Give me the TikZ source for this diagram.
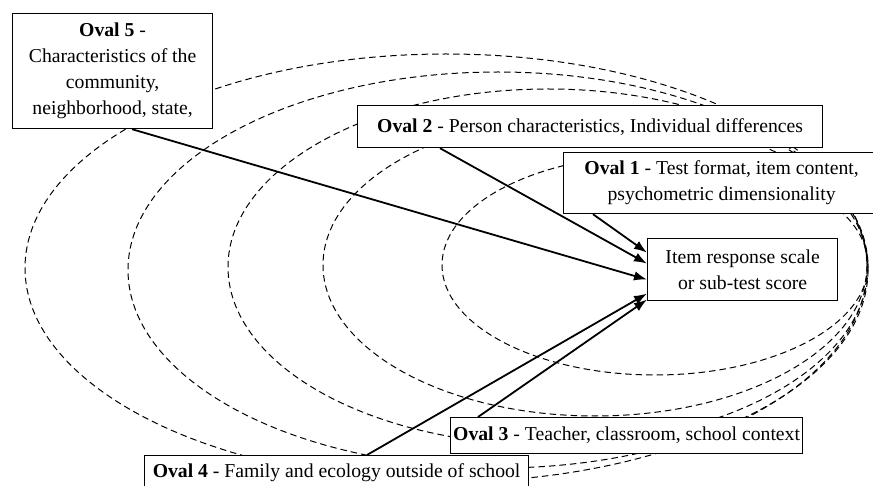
\documentclass[tikz,border=0pt]{standalone}
\usepackage{fontspec}
\setmainfont{Liberation Serif}
\usetikzlibrary{arrows.meta}

\begin{document}
\begin{tikzpicture}[x=1pt,y=-1pt,
    every node/.style={font=\fontsize{19.7}{26}\selectfont},
    oval/.style={draw,dash pattern=on 6.5pt off 4pt,line width=1pt},
    labelbox/.style={draw,fill=white,line width=1.2pt,align=center,
                     inner sep=0pt,anchor=north west},
    link/.style={-{Latex[length=13pt,width=9.5pt]},line width=1.8pt}]
  \useasboundingbox (0,0) rectangle (873,486);
  % nested ovals, innermost first
  \draw[oval] (655,265) ellipse [x radius=213,y radius=110];
  \draw[oval] (595,265) ellipse [x radius=272,y radius=151];
  \draw[oval] (548,267) ellipse [x radius=320,y radius=178];
  \draw[oval] (498,270) ellipse [x radius=370,y radius=198];
  \draw[oval] (446,268) ellipse [x radius=421,y radius=214];
  % boxes
  \node[labelbox,minimum width=200pt,minimum height=115pt] (o5) at (12,13)
       {\textbf{Oval 5} -\\Characteristics of the\\community,\\neighborhood, state,};
  \node[labelbox,minimum width=465pt,minimum height=42pt] (o2) at (357,105)
       {\textbf{Oval 2} - Person characteristics, Individual differences};
  \node[labelbox,minimum width=316pt,minimum height=61pt] (o1) at (563,152)
       {\textbf{Oval 1} - Test format, item content,\\psychometric dimensionality};
  \node[labelbox,minimum width=190pt,minimum height=62pt] (item) at (647,238)
       {Item response scale\\or sub-test score};
  \node[labelbox,minimum width=352pt,minimum height=36pt] (o3) at (450,417)
       {\textbf{Oval 3} - Teacher, classroom, school context};
  \node[labelbox,minimum width=384pt,minimum height=35pt] (o4) at (144,455)
       {\textbf{Oval 4} - Family and ecology outside of school};
  % influences on the score
  \draw[link] ([xshift=30pt]o1.south west)  -- ([yshift=17pt]item.west);
  \draw[link] ([xshift=83pt]o2.south west)  -- ([yshift=6pt]item.west);
  \draw[link] ([xshift=120pt]o5.south west) -- ([yshift=-10pt]item.west);
  \draw[link] ([xshift=223pt]o4.north west) -- ([yshift=-24pt]item.west);
  \draw[link] ([xshift=28pt]o3.north west)  -- ([yshift=-30pt]item.west);
\end{tikzpicture}
\end{document}
